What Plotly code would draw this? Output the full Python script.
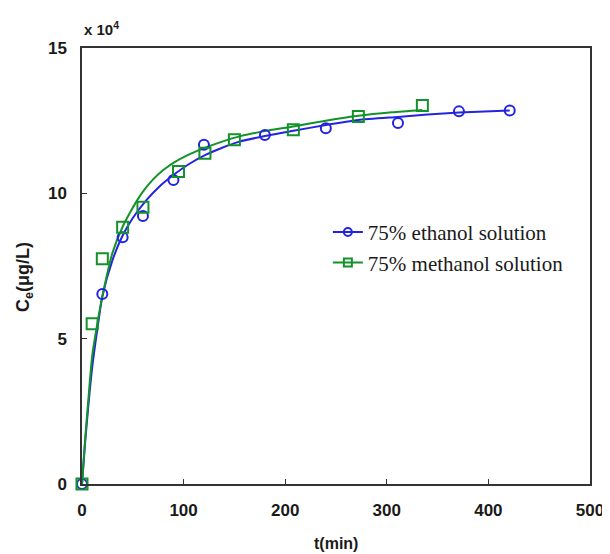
import plotly.graph_objects as go

# measured points (C in units of 10^4 ug/L)
eth_t = [0, 20, 40, 60, 90, 120, 180, 240, 311, 371, 421]
eth_c = [0, 6.54, 8.49, 9.22, 10.46, 11.67, 12.01, 12.24, 12.42, 12.82, 12.85]
met_t = [0, 10, 20, 40, 60, 95, 121, 150, 208, 272, 335]
met_c = [0, 5.51, 7.75, 8.83, 9.52, 10.75, 11.38, 11.84, 12.19, 12.64, 13.02]

# fitted curves
eth_fit_t = [0, 3, 6, 10, 15, 20, 30, 40, 50, 63, 76, 90, 105, 122, 138, 155, 180, 208, 240, 272, 311, 340, 371, 421]
eth_fit_c = [0, 1.4, 2.6, 4.0, 5.3, 6.45, 7.7, 8.55, 9.15, 9.75, 10.23, 10.63, 11.0, 11.33, 11.57, 11.78, 11.97, 12.15, 12.35, 12.52, 12.63, 12.71, 12.78, 12.85]
met_fit_t = [0, 3, 6, 10, 15, 20, 30, 40, 48, 55, 62, 70, 80, 90, 105, 122, 138, 155, 180, 208, 240, 272, 305, 335]
met_fit_c = [0, 1.5, 2.8, 4.4, 5.5, 6.45, 7.95, 8.85, 9.38, 9.8, 10.15, 10.48, 10.8, 11.05, 11.33, 11.58, 11.78, 11.96, 12.14, 12.3, 12.5, 12.67, 12.79, 12.87]

series = ["75% ethanol solution", "75% methanol solution"]
BLUE = "#2323e0"
GREEN = "#13922b"
SANS = "Liberation Sans, Arial"

fig = go.Figure()
fig.add_trace(go.Scatter(x=eth_fit_t, y=eth_fit_c, mode="lines",
                         line=dict(color=BLUE, width=2, shape="spline", smoothing=0.6),
                         showlegend=False, hoverinfo="skip"))
fig.add_trace(go.Scatter(x=met_fit_t, y=met_fit_c, mode="lines",
                         line=dict(color=GREEN, width=2, shape="spline", smoothing=0.6),
                         showlegend=False, hoverinfo="skip"))
fig.add_trace(go.Scatter(x=eth_t, y=eth_c, mode="markers", cliponaxis=False,
                         marker=dict(symbol="circle-open", size=10, color=BLUE, line=dict(width=2, color=BLUE)),
                         showlegend=False))
fig.add_trace(go.Scatter(x=met_t, y=met_c, mode="markers", cliponaxis=False,
                         marker=dict(symbol="square-open", size=11, color=GREEN, line=dict(width=2, color=GREEN)),
                         showlegend=False))
# legend entries
fig.add_trace(go.Scatter(x=[None], y=[None], mode="lines+markers", name=series[0],
                         line=dict(color=BLUE, width=2),
                         marker=dict(symbol="circle-open", size=8, color=BLUE, line=dict(width=2, color=BLUE))))
fig.add_trace(go.Scatter(x=[None], y=[None], mode="lines+markers", name=series[1],
                         line=dict(color=GREEN, width=2),
                         marker=dict(symbol="square-open", size=8, color=GREEN, line=dict(width=2, color=GREEN))))

axis_common = dict(showgrid=False, zeroline=False, showline=True, linecolor="#333333", linewidth=1.5,
                   mirror=True, ticks="inside", ticklen=5, tickcolor="#333333", automargin=False,
                   tickfont=dict(family=SANS, size=17, color="#1a1a1a", weight="bold"))

# page body has an 8px default margin, so the figure is 8px smaller and offset
fig.update_layout(
    width=602, height=546,
    margin=dict(l=74, r=20, t=40, b=70, autoexpand=False),
    paper_bgcolor="white", plot_bgcolor="white",
    xaxis=dict(range=[0, 500], tickvals=[0, 100, 200, 300, 400, 500], ticklabelstandoff=10, **axis_common),
    yaxis=dict(range=[0, 15], tickvals=[0, 5, 10, 15], ticklabelstandoff=10, **axis_common),
    legend=dict(x=0.484, y=0.624, xanchor="left", yanchor="top", bgcolor="rgba(0,0,0,0)",
                font=dict(family="Liberation Serif, Times New Roman", size=21, color="#1a1a1a"),
                itemwidth=30, tracegroupgap=0),
    annotations=[
        dict(text="x 10<sup>4</sup>", xref="paper", yref="paper", x=0.0, y=1.0, xanchor="left",
             yanchor="bottom", showarrow=False, yshift=8,
             font=dict(family=SANS, size=15, color="#1a1a1a", weight="bold")),
        dict(text="t(min)", xref="paper", yref="paper", x=0.5, y=0, yanchor="middle", xanchor="center",
             showarrow=False, yshift=-59, font=dict(family=SANS, size=16, color="#1a1a1a", weight="bold")),
        dict(text="C<sub>e</sub>(μg/L)", xref="paper", yref="paper", x=0, y=0.475, xanchor="center",
             yanchor="middle", showarrow=False, xshift=-57, textangle=-90,
             font=dict(family=SANS, size=18, color="#1a1a1a", weight="bold")),
    ],
)

fig.write_html("out.html")
